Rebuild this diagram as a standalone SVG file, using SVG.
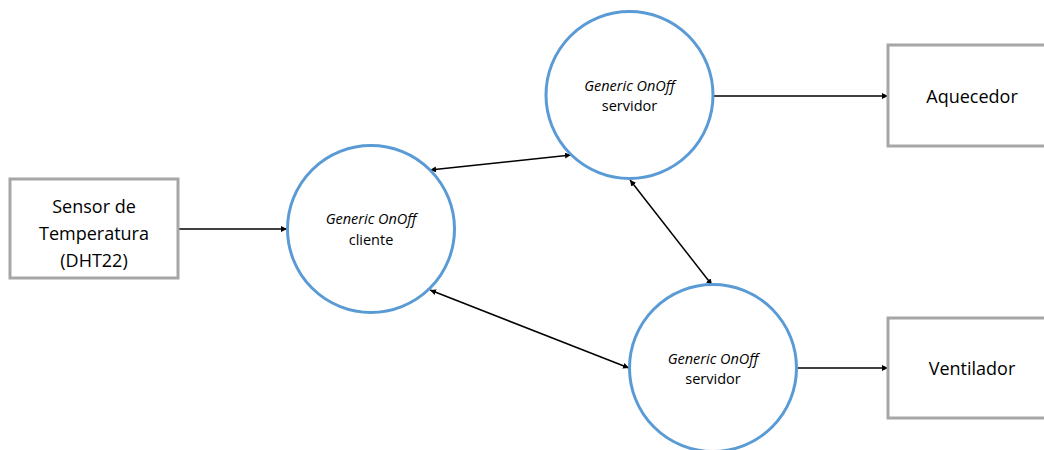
<svg xmlns="http://www.w3.org/2000/svg" width="1044" height="450" viewBox="0 0 1044 450">
  <style>
    .box { fill: #ffffff; stroke: #a6a6a6; stroke-width: 3; }
    .node { fill: #ffffff; stroke: #5b9bd5; stroke-width: 3; }
    .lbl { font-family: "Open Sans", "Liberation Sans", sans-serif; font-size: 18px; fill: #000; text-anchor: middle; }
    .sm { font-family: "Open Sans", "Liberation Sans", sans-serif; font-size: 14.5px; fill: #000; text-anchor: middle; }
    .it { font-style: italic; }
    .wire { stroke: #000; stroke-width: 1.5; fill: none; marker-end: url(#head); }
    .both { marker-start: url(#tail); }
  </style>
  <defs>
    <marker id="head" viewBox="0 0 10 10" refX="10" refY="5" markerWidth="6" markerHeight="6" orient="auto" markerUnits="userSpaceOnUse">
      <path d="M0,0 L10,5 L0,10 z" fill="#000"/>
    </marker>
    <marker id="tail" viewBox="0 0 10 10" refX="0" refY="5" markerWidth="6" markerHeight="6" orient="auto" markerUnits="userSpaceOnUse">
      <path d="M10,0 L0,5 L10,10 z" fill="#000"/>
    </marker>
  </defs>
  <rect width="1044" height="450" fill="#ffffff"/>

  <g id="connectors">
    <line class="wire" x1="178" y1="229" x2="287" y2="229"/>
    <line class="wire both" x1="430" y1="170" x2="571" y2="155"/>
    <line class="wire" x1="713" y1="96" x2="888" y2="96"/>
    <line class="wire both" x1="630" y1="180" x2="712" y2="285"/>
    <line class="wire both" x1="430" y1="290" x2="629" y2="368"/>
    <line class="wire" x1="797" y1="368" x2="888" y2="368"/>
  </g>

  <g id="sensor">
    <rect class="box" x="10" y="179" width="168" height="99"/>
    <text class="lbl" x="94" y="213">Sensor de</text>
    <text class="lbl" x="94" y="240">Temperatura</text>
    <text class="lbl" x="94" y="267">(DHT22)</text>
  </g>

  <g id="cliente">
    <circle class="node" cx="371" cy="229" r="83.5"/>
    <text class="sm it" x="371" y="224">Generic OnOff</text>
    <text class="sm" x="371" y="245">cliente</text>
  </g>

  <g id="servidor-aquecedor">
    <circle class="node" cx="629.5" cy="95" r="83.5"/>
    <text class="sm it" x="629.5" y="91">Generic OnOff</text>
    <text class="sm" x="629.5" y="111">servidor</text>
  </g>

  <g id="servidor-ventilador">
    <circle class="node" cx="713" cy="368" r="83.5"/>
    <text class="sm it" x="713" y="364">Generic OnOff</text>
    <text class="sm" x="713" y="384">servidor</text>
  </g>

  <g id="aquecedor">
    <rect class="box" x="888" y="45" width="170" height="101"/>
    <text class="lbl" x="972" y="103">Aquecedor</text>
  </g>

  <g id="ventilador">
    <rect class="box" x="888" y="318" width="170" height="100"/>
    <text class="lbl" x="972" y="375">Ventilador</text>
  </g>
</svg>
